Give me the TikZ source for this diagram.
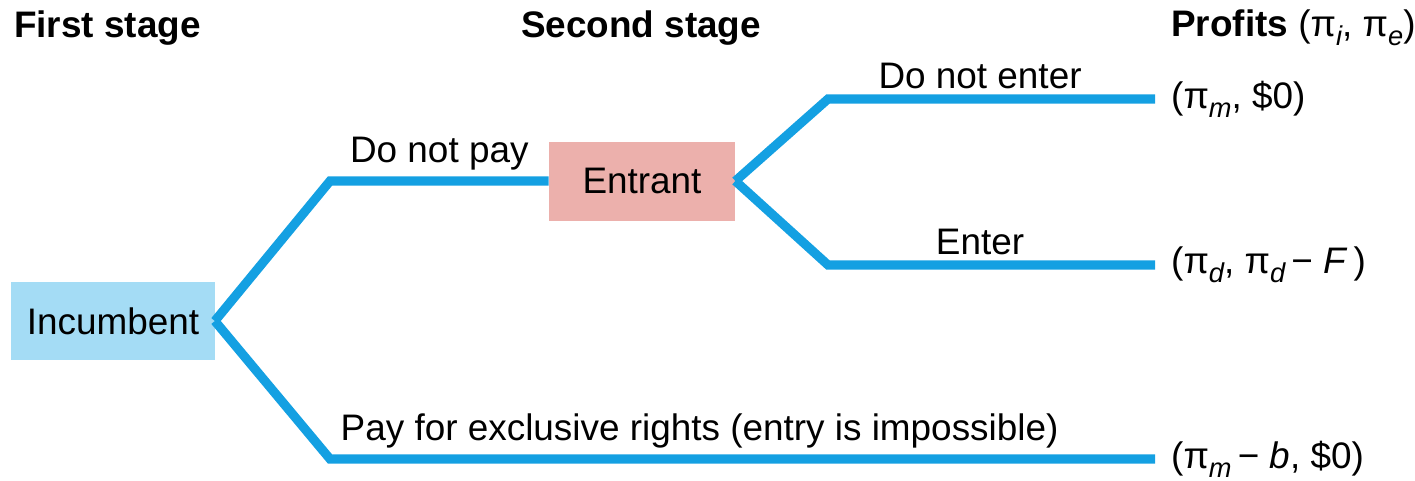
\documentclass[tikz,border=0pt]{standalone}
\usepackage{fontspec}
\setmainfont{Liberation Sans}
\usepackage{tikz}
\usetikzlibrary{positioning}

\definecolor{branchblue}{RGB}{20,160,226}
\definecolor{incfill}{RGB}{164,220,245}
\definecolor{entfill}{RGB}{236,176,172}

\newcommand{\lowsub}[1]{\raisebox{-0.45ex}{\fontsize{15.5}{16}\selectfont\itshape #1}}

\begin{document}
\begin{tikzpicture} [
incnode/.style={rectangle, fill=incfill, minimum width=4.06cm, minimum height=1.56cm},
entnode/.style={rectangle, fill=entfill, minimum width=3.72cm, minimum height=1.58cm},
branch/.style={draw=branchblue, line width=5.2pt},
stagelabel/.style={font=\fontsize{21}{25}\selectfont\bfseries},
every node/.style={font=\fontsize{21}{25}\selectfont},
]
\useasboundingbox (0,0) rectangle (28.3,9.6);

%Nodes
\node[incnode]     (incumbent)   at (2.26,3.18)         {Incumbent};
\node[entnode]     (entrant)     at (12.84,5.98)        {Entrant};

\coordinate (upbend)    at (6.6,5.98);
\coordinate (lowbend)   at (6.6,0.42);
\coordinate (lowend)    at (23.1,0.42);
\coordinate (outbend)   at (16.56,7.62);
\coordinate (outend)    at (23.1,7.62);
\coordinate (inbend)    at (16.56,4.3);
\coordinate (inend)     at (23.1,4.3);

%Headings
\node[stagelabel]  (first)       at (2.15,9.04)         {First stage};
\node[stagelabel]  (second)      at (12.82,9.04)        {Second stage};
\node[anchor=west] (profits)     at (23.3,9.04)
  {\textbf{Profits} (π\lowsub{i}, π\lowsub{e})};

%Payoffs
\node[anchor=west] (payout)      [right=0.2cm of outend] {(π\lowsub{m}, \$0)};
\node[anchor=west] (payin)       [right=0.2cm of inend]  {(π\lowsub{d}, π\lowsub{d}\,− \textit{F}\,)};
\node[anchor=west] (paylow)      [right=0.2cm of lowend] {(π\lowsub{m}\,− \textit{b}, \$0)};

%Lines
\draw[branch] (incumbent.east) -- (upbend) -- (entrant.west)
  node[pos=0.5, above, black] (notpay) {Do not pay};
\draw[branch] (incumbent.east) -- (lowbend) -- (lowend)
  node[pos=0.448, above, black] (pay) {Pay for exclusive rights (entry is impossible)};
\draw[branch] (entrant.east) -- (outbend) -- (outend)
  node[pos=0.465, above, black] (stayout) {Do not enter};
\draw[branch] (entrant.east) -- (inbend) -- (inend)
  node[pos=0.465, above, black] (enter) {Enter};

\end{tikzpicture}
\end{document}
